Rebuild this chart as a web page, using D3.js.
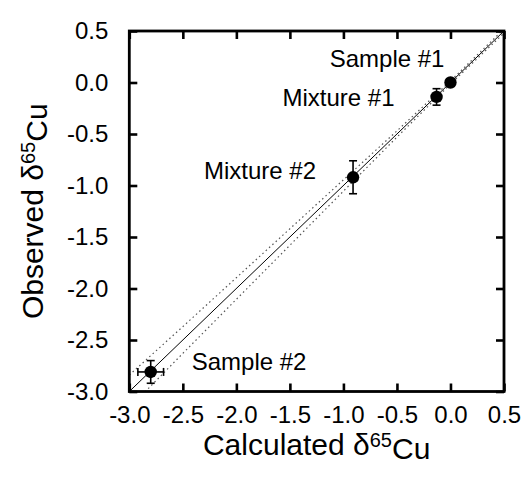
<!DOCTYPE html>
<html>
<head>
<meta charset="utf-8">
<script src="https://cdn.jsdelivr.net/npm/d3@7"></script>
<style>
  body { margin: 0; background: #fff; }
  svg text { font-family: "Liberation Sans", Arial, sans-serif; fill: #000; }
</style>
</head>
<body>
<div class="chart"></div>
<script>

// Data
var names = ["Sample #1", "Mixture #1", "Mixture #2", "Sample #2"];
var calculated = [0.0, -0.13, -0.91, -2.80];
var observed = [0.0, -0.14, -0.92, -2.81];
var calcErr = [0, 0, 0, 0.12];
var obsErr = [0, 0.08, 0.16, 0.11];

// Dotted band round the 1:1 line (half-width in delta units)
var bandX = [-3.0, -2.5, -2.0, -1.5, -1.0, -0.5, 0.0, 0.5];
var bandHalf = [0.16, 0.13, 0.105, 0.08, 0.055, 0.03, 0.015, 0.02];

var ticks = [-3.0, -2.5, -2.0, -1.5, -1.0, -0.5, 0.0, 0.5];

// Label placement relative to each point (pixels)
var labelDx = [-6, -42, -37, 41];
var labelDy = [-16, 9, 2, -2];
var labelAnchor = ["end", "end", "end", "start"];

var width = 523, height = 487;
var plot = { left: 129.3, right: 504, top: 31, bottom: 391.5 };

var svg = d3.select(".chart")
    .append("svg")
      .attr("width", width)
      .attr("height", height);

var x = d3.scaleLinear()
    .domain([-3.0, 0.5])
    .range([plot.left, plot.right]);

var y = d3.scaleLinear()
    .domain([-3.0, 0.5])
    .range([plot.bottom, plot.top]);

svg.append("clipPath")
    .attr("id", "clip")
  .append("rect")
    .attr("x", plot.left)
    .attr("y", plot.top)
    .attr("width", plot.right - plot.left)
    .attr("height", plot.bottom - plot.top);

var inner = svg.append("g").attr("clip-path", "url(#clip)");

// Dotted confidence lines
var upper = d3.line()
    .x(function(d) { return x(d); })
    .y(function(d, i) { return y(d + bandHalf[i]); });
var lower = d3.line()
    .x(function(d) { return x(d); })
    .y(function(d, i) { return y(d - bandHalf[i]); });

[upper, lower].forEach(function(l) {
    inner.append("path")
        .attr("d", l(bandX))
        .attr("fill", "none")
        .attr("stroke", "#555")
        .attr("stroke-width", 1.2)
        .attr("stroke-dasharray", "1.5,3");
});

// 1:1 line
inner.append("line")
    .attr("x1", x(-3.0)).attr("y1", y(-3.0))
    .attr("x2", x(0.5)).attr("y2", y(0.5))
    .attr("stroke", "#000")
    .attr("stroke-width", 1);

// Axes with inward ticks on all four sides
var tickLen = 8;
var fmt = function(d) { return d.toFixed(1); };

svg.append("g")
    .attr("class", "xAxis")
    .attr("transform", "translate(0," + plot.bottom + ")")
    .call(d3.axisBottom(x).tickValues(ticks).tickFormat(fmt)
        .tickSizeInner(-tickLen).tickSizeOuter(0).tickPadding(14));

svg.append("g")
    .attr("class", "yAxis")
    .attr("transform", "translate(" + plot.left + ",0)")
    .call(d3.axisLeft(y).tickValues(ticks).tickFormat(fmt)
        .tickSizeInner(-tickLen).tickSizeOuter(0).tickPadding(21));

svg.append("g")
    .attr("class", "topAxis")
    .attr("transform", "translate(0," + plot.top + ")")
    .call(d3.axisTop(x).tickValues(ticks).tickFormat("")
        .tickSizeInner(-tickLen).tickSizeOuter(0));

svg.append("g")
    .attr("class", "rightAxis")
    .attr("transform", "translate(" + plot.right + ",0)")
    .call(d3.axisRight(y).tickValues(ticks).tickFormat("")
        .tickSizeInner(-tickLen).tickSizeOuter(0));

svg.selectAll(".domain").remove();
svg.selectAll(".tick line")
    .attr("stroke", "#000")
    .attr("stroke-width", 2.6);
svg.selectAll(".xAxis text, .yAxis text")
    .style("font-size", "24px");

svg.append("rect")
    .attr("x", plot.left)
    .attr("y", plot.top)
    .attr("width", plot.right - plot.left)
    .attr("height", plot.bottom - plot.top)
    .attr("fill", "none")
    .attr("stroke", "#000")
    .attr("stroke-width", 2.8);

// Error bars
var cap = 4;
var err = svg.append("g")
    .attr("stroke", "#000")
    .attr("stroke-width", 1.6);

calculated.forEach(function(cx, i) {
    var cy = observed[i];
    if (obsErr[i] > 0) {
        err.append("line")
            .attr("x1", x(cx)).attr("x2", x(cx))
            .attr("y1", y(cy - obsErr[i])).attr("y2", y(cy + obsErr[i]));
        [cy - obsErr[i], cy + obsErr[i]].forEach(function(v) {
            err.append("line")
                .attr("x1", x(cx) - cap).attr("x2", x(cx) + cap)
                .attr("y1", y(v)).attr("y2", y(v));
        });
    }
    if (calcErr[i] > 0) {
        err.append("line")
            .attr("x1", x(cx - calcErr[i])).attr("x2", x(cx + calcErr[i]))
            .attr("y1", y(cy)).attr("y2", y(cy));
        [cx - calcErr[i], cx + calcErr[i]].forEach(function(v) {
            err.append("line")
                .attr("x1", x(v)).attr("x2", x(v))
                .attr("y1", y(cy) - cap).attr("y2", y(cy) + cap);
        });
    }
});

// Points
svg.selectAll(".dot")
    .data(calculated)
    .enter().append("circle")
        .attr("class", "dot")
        .attr("cx", function(d) { return x(d); })
        .attr("cy", function(d, i) { return y(observed[i]); })
        .attr("r", 6.2)
        .style("fill", "#000");

// Point labels
svg.selectAll(".label")
    .data(names)
    .enter().append("text")
        .attr("class", "label")
        .attr("x", function(d, i) { return x(calculated[i]) + labelDx[i]; })
        .attr("y", function(d, i) { return y(observed[i]) + labelDy[i]; })
        .attr("text-anchor", function(d, i) { return labelAnchor[i]; })
        .style("font-size", "24px")
        .text(function(d) { return d; });

// Axis titles
function addTitle(g, base) {
    g.append("tspan").text(base + " \u03b4");
    g.append("tspan")
        .attr("dy", "-0.42em")
        .style("font-size", "20px")
        .text("65");
    g.append("tspan")
        .attr("dy", "0.42em")
        .text("Cu");
}

var xTitle = svg.append("text")
    .attr("x", (plot.left + plot.right) / 2)
    .attr("y", 455)
    .attr("text-anchor", "middle")
    .style("font-size", "30px");
addTitle(xTitle, "Calculated");

var yTitle = svg.append("text")
    .attr("transform", "translate(43," + ((plot.top + plot.bottom) / 2) + ") rotate(-90)")
    .attr("text-anchor", "middle")
    .style("font-size", "30px");
addTitle(yTitle, "Observed");

</script>
</body>
</html>
